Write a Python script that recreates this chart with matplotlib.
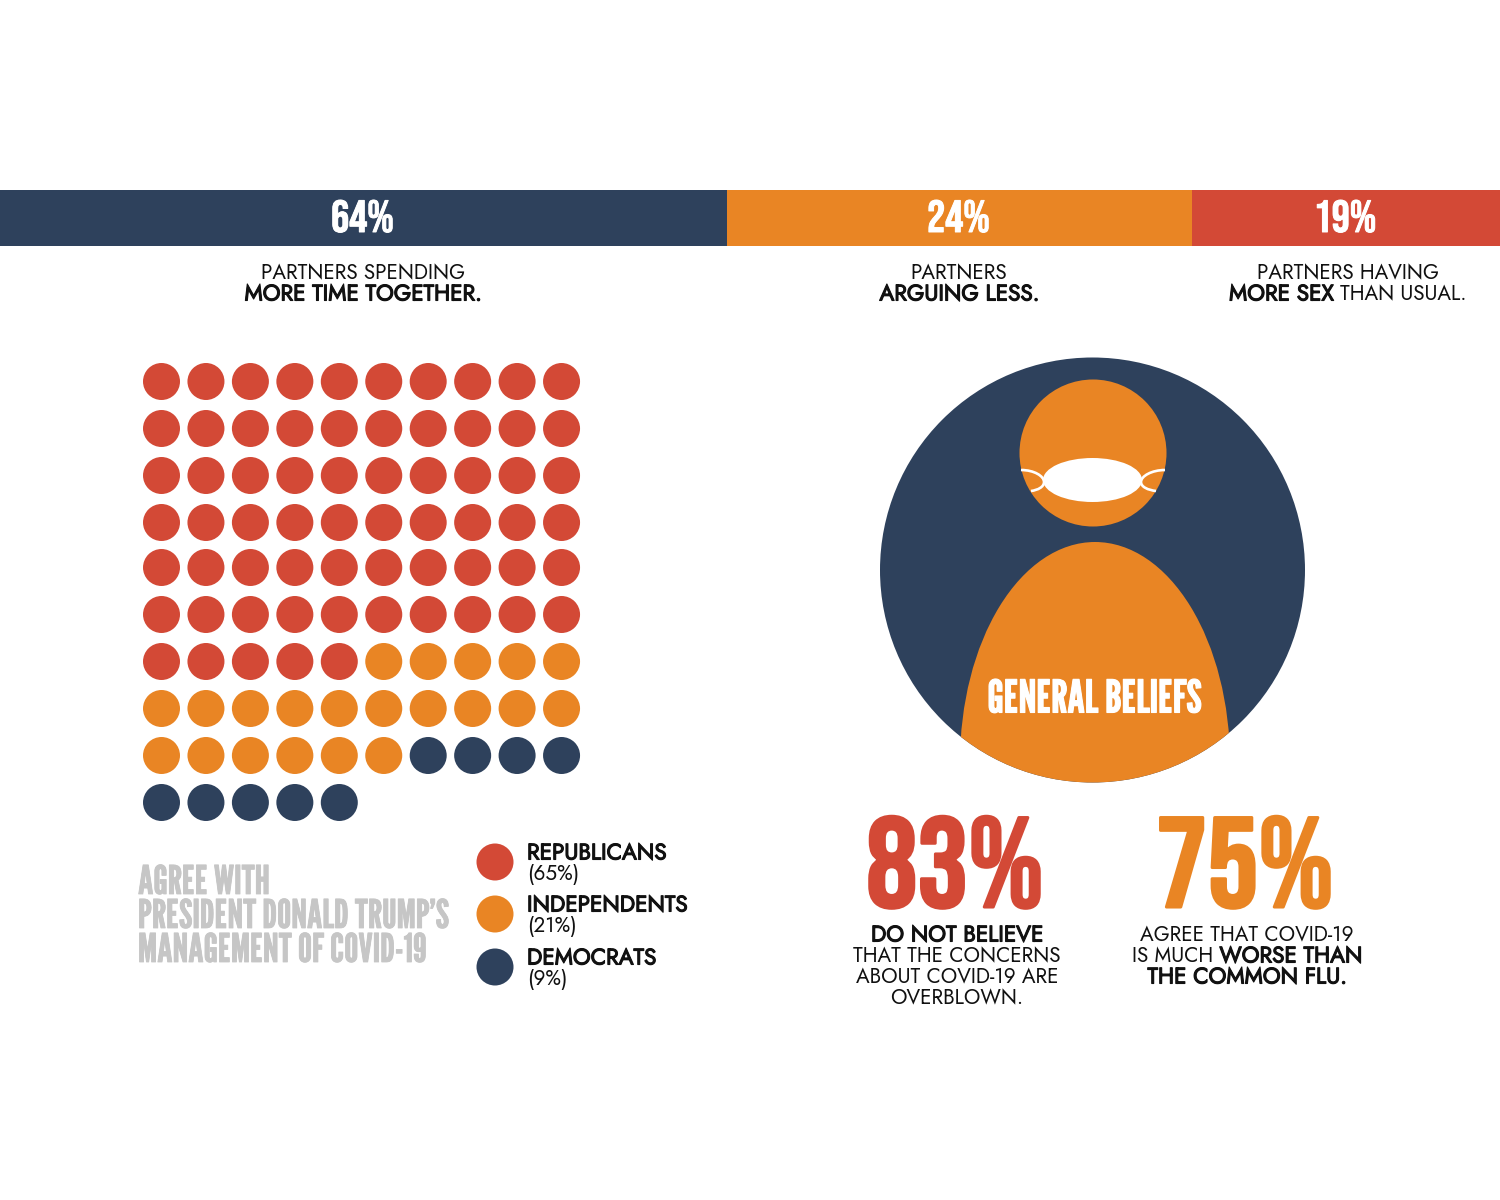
import matplotlib
matplotlib.use("Agg")
import matplotlib.pyplot as plt
import matplotlib.patheffects as pe
from matplotlib import font_manager
from matplotlib.patches import Circle, Ellipse, PathPatch, Rectangle
from matplotlib.path import Path

NAVY = "#2e415c"
ORANGE = "#e98524"
RED = "#d34936"
GREY = "#c6c6c6"
INK = "#111111"

installed = {f.name for f in font_manager.fontManager.ttflist}
NARROW = "League Gothic" if "League Gothic" in installed else "Liberation Sans"
NUMBERS = "Bebas Neue" if "Bebas Neue" in installed else NARROW
BODY = "Jost" if "Jost" in installed else "Lato"

# top strip
bar_labels = ["64%", "24%", "19%"]
bar_widths = [727, 465, 308]
bar_colors = [NAVY, ORANGE, RED]

# waffle
party_names = ["REPUBLICANS", "INDEPENDENTS", "DEMOCRATS"]
party_pct = [65, 21, 9]
party_colors = [RED, ORANGE, NAVY]
row_y = [381, 428, 475, 522, 567, 614, 661, 708, 755, 802]

fig = plt.figure(figsize=(15, 12), dpi=100)
ax = fig.add_axes([0, 0, 1, 1])
ax.set_xlim(0, 1500)
ax.set_ylim(1200, 0)
ax.axis("off")


def stroked(t, lw, color):
    t.set_path_effects([pe.withStroke(linewidth=lw, foreground=color)])
    return t


def body_text(x, y, s, bold=False, **kw):
    t = ax.text(x, y, s, family=BODY, fontsize=16.2 if bold else 14.9, color=INK, va="center", **kw)
    if bold:
        stroked(t, 0.8, INK)
    return t


def lines(x, y, parts):
    # parts: list of lines, each a list of (text, bold)
    r = fig.canvas.get_renderer()
    for n, line in enumerate(parts):
        yy = y + n * 21
        pieces = [body_text(0, yy, t, b) for t, b in line]
        ws = [p.get_window_extent(r).width for p in pieces]
        cur = x - sum(ws) / 2
        for p, w in zip(pieces, ws):
            p.set_x(cur)
            cur += w


left = 0
for lab, w, c in zip(bar_labels, bar_widths, bar_colors):
    ax.add_patch(Rectangle((left, 190), w, 56, color=c, lw=0))
    stroked(ax.text(left + w / 2 - 1, 216, lab, color="white", family=NUMBERS,
                    fontsize=32.5, ha="center", va="center"), 0.7, "white")
    left += w

lines(363, 273, [[("PARTNERS SPENDING", False)], [("MORE TIME TOGETHER.", True)]])
lines(959, 273, [[("PARTNERS", False)], [("ARGUING LESS.", True)]])
lines(1348, 273, [[("PARTNERS HAVING", False)], [("MORE SEX ", True), ("THAN USUAL.", False)]])

# waffle dots, filled row by row from the counts
dot_colors = []
for c, n in zip(party_colors, party_pct):
    dot_colors += [c] * n
for i, c in enumerate(dot_colors):
    row, col = divmod(i, 10)
    ax.add_patch(Ellipse((161.5 + col * 44.45, row_y[row] + 0.5), 37, 37, color=c, lw=0))

for y, t in zip([883, 917, 951], ["AGREE WITH", "PRESIDENT DONALD TRUMP\u2019S", "MANAGEMENT OF COVID-19"]):
    stroked(ax.text(138, y, t, color=GREY, family=NARROW, fontsize=28.5, va="center", ha="left"), 0.6, GREY)

for y, name, pct, c in zip([862, 914, 967], party_names, party_pct, party_colors):
    ax.add_patch(Ellipse((495, y), 37, 37, color=c, lw=0))
    body_text(527, y - 9, name, True)
    body_text(527, y + 12, f"({pct}%)")

# person in the circle
ax.add_patch(Circle((1092.5, 570), 212.5, color=NAVY, lw=0))
body = Ellipse((1095, 762), 270, 440, color=ORANGE, lw=0)
ax.add_patch(body)
body.set_clip_path(Circle((1092.5, 570), 212.5, transform=ax.transData))
ax.add_patch(Circle((1093, 453), 73.5, color=ORANGE, lw=0))
ax.add_patch(Ellipse((1092.5, 480), 99, 44, color="white", lw=0))
straps = [[(1021, 470), (1034, 470), (1044, 476), (1044, 482)],
          [(1044, 482), (1044, 487), (1038, 490), (1031, 491)],
          [(1165, 470), (1152, 470), (1141, 476), (1141, 482)],
          [(1141, 482), (1141, 487), (1148, 490), (1156, 491)]]
for s in straps:
    ax.add_patch(PathPatch(Path(s, [Path.MOVETO, Path.CURVE4, Path.CURVE4, Path.CURVE4]),
                           fc="none", ec="white", lw=1.9))
stroked(ax.text(1094, 700, "GENERAL BELIEFS", color="white", family=NARROW,
                fontsize=32.5, ha="center", va="center"), 0.8, "white")

# big numbers
stroked(ax.text(955, 862, "83%", color=RED, family=NUMBERS, fontsize=92,
                ha="center", va="center"), 2.2, RED)
stroked(ax.text(1245, 862, "75%", color=ORANGE, family=NUMBERS, fontsize=92,
                ha="center", va="center"), 2.2, ORANGE)

lines(957, 935, [[("DO NOT BELIEVE", True)], [("THAT THE CONCERNS", False)],
                 [("ABOUT COVID-19 ARE", False)], [("OVERBLOWN.", False)]])
lines(1247, 935, [[("AGREE THAT COVID-19", False)],
                  [("IS MUCH ", False), ("WORSE THAN", True)],
                  [("THE COMMON FLU.", True)]])

fig.savefig("out.png", dpi=100, facecolor="white")
